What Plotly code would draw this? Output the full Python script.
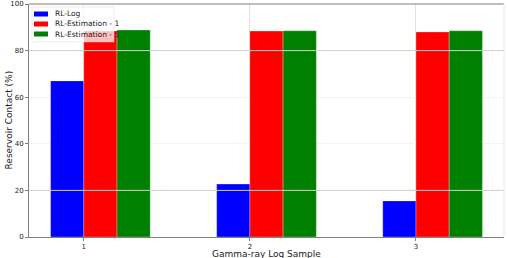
import plotly.graph_objects as go

samples = [1, 2, 3]
series_names = ["RL-Log", "RL-Estimation - 1", "RL-Estimation - 5"]
rl_log = [67.0, 22.7, 15.5]
rl_est_1 = [88.4, 88.4, 88.0]
rl_est_5 = [88.8, 88.5, 88.5]
colors = ["blue", "red", "green"]
y_ticks = [0, 20, 40, 60, 80, 100]
strong_grid = [20, 80]
x_title = "Gamma-ray Log Sample"
y_title = "Reservoir Contact (%)"

bar_w = 0.2
offsets = [-0.2, 0.0, 0.2]
values = [rl_log, rl_est_1, rl_est_5]

# plot area in pixels (for the matplotlib-style legend and titles)
W, H = 507, 258
L, R, T, B = 29, 3, 4, 21
PW, PH = W - L - R, H - T - B


def px(xp):
    return (xp - L) / PW


def py(yp):
    return (H - B - yp) / PH


fig = go.Figure()
for name, vals, col, off in zip(series_names, values, colors, offsets):
    fig.add_trace(go.Bar(
        x=samples, y=vals, name=name, width=bar_w, offset=off,
        marker=dict(color=col, line=dict(color="rgba(255,255,255,0.45)", width=0.6)),
        showlegend=False,
    ))

for g in strong_grid:
    fig.add_shape(type="line", xref="paper", x0=0, x1=1, yref="y", y0=g, y1=g,
                  line=dict(color="#cfcfcf", width=1), layer="above")

# legend box
fig.add_shape(type="rect", xref="paper", yref="paper",
              x0=px(32), x1=px(114), y0=py(42), y1=py(7),
              fillcolor="rgba(255,255,255,0.75)", line=dict(color="rgba(215,215,215,0.8)", width=0.6),
              layer="above")
for i, (name, col) in enumerate(zip(series_names, colors)):
    yc = 14 + i * 10
    fig.add_shape(type="rect", xref="paper", yref="paper",
                  x0=px(34), x1=px(48), y0=py(yc + 2.5), y1=py(yc - 2.5),
                  fillcolor=col, line=dict(width=0), layer="above")
    fig.add_annotation(xref="paper", yref="paper", x=px(53), y=py(yc), text=name,
                       showarrow=False, xanchor="left", yanchor="middle",
                       font=dict(size=7.5, color="#222222"))

# axis titles
fig.add_annotation(xref="paper", yref="paper", x=0.5, y=py(253.5), text=x_title,
                   showarrow=False, xanchor="center", yanchor="middle", borderpad=0,
                   font=dict(size=9, color="#222222"))
fig.add_annotation(xref="paper", yref="paper", x=px(8), y=0.5, text=y_title, textangle=-90,
                   showarrow=False, xanchor="center", yanchor="middle", borderpad=0,
                   font=dict(size=9, color="#222222"))

font = "DejaVu Sans, Liberation Sans, sans-serif"
fig.update_layout(
    width=W, height=H,
    margin=dict(l=L, r=R, t=T, b=B, autoexpand=False),
    paper_bgcolor="white", plot_bgcolor="white",
    barmode="overlay",
    font=dict(family=font, size=7, color="#333333"),
    showlegend=False,
    xaxis=dict(
        range=[0.67, 3.53], tickvals=samples, ticktext=[str(s) for s in samples],
        showgrid=True, gridcolor="#e2e2e2", gridwidth=1,
        showline=True, linecolor="#808080", linewidth=1,
        ticks="outside", ticklen=3, tickcolor="#808080",
        tickfont=dict(size=7, color="#222222"),
        zeroline=False, automargin=False,
    ),
    yaxis=dict(
        range=[0, 100], tickvals=y_ticks,
        showgrid=True, gridcolor="#f3f3f3", gridwidth=1,
        showline=True, linecolor="#808080", linewidth=1,
        ticks="outside", ticklen=3, tickcolor="#808080",
        tickfont=dict(size=7, color="#222222"),
        zeroline=False, automargin=False,
    ),
)
# top and right spines
fig.add_shape(type="line", xref="paper", yref="paper", x0=0, x1=1, y0=1, y1=1,
              line=dict(color="#808080", width=1.2), layer="above")
fig.add_shape(type="line", xref="paper", yref="paper", x0=1, x1=1, y0=0, y1=1,
              line=dict(color="#e6e6e6", width=1), layer="above")

fig.write_html("out.html", config={"displayModeBar": False},
               post_script="document.body.style.margin='0';document.body.style.overflow='hidden';")
